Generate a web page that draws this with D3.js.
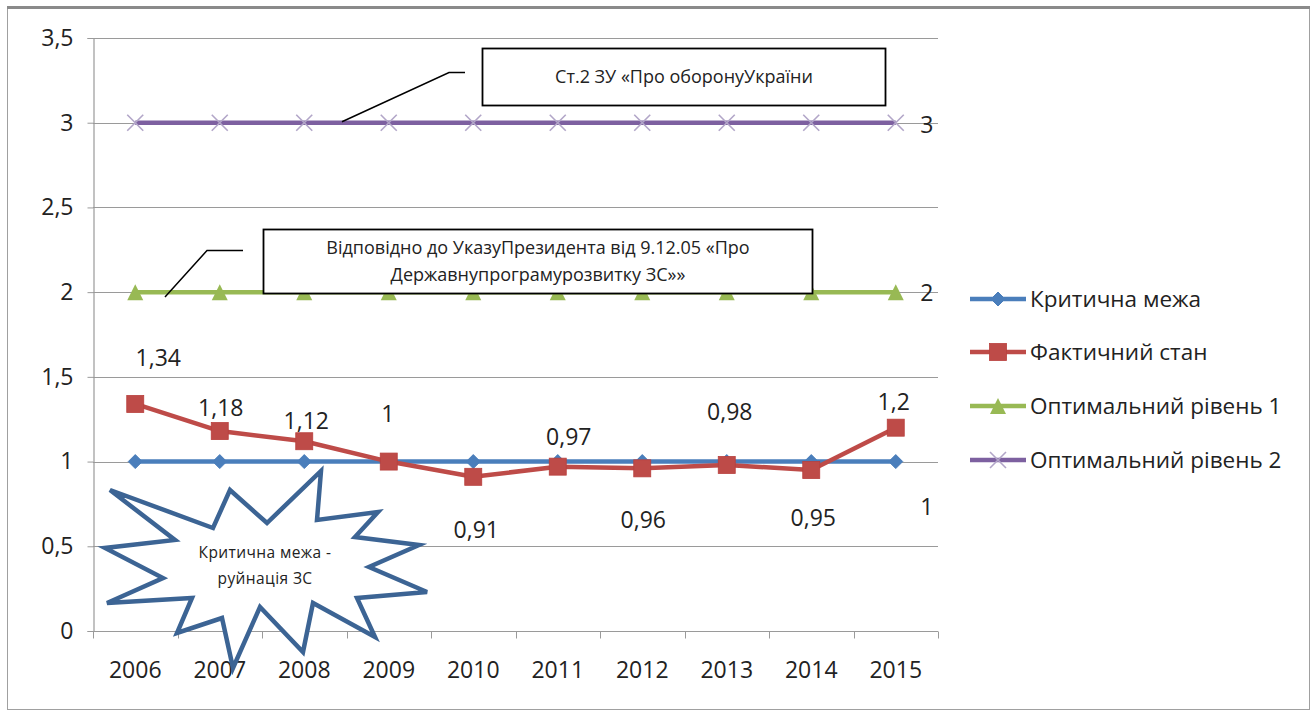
<!DOCTYPE html>
<html>
<head>
<meta charset="utf-8">
<script src="https://cdn.jsdelivr.net/npm/d3@7"></script>
<style>
  html, body { margin: 0; padding: 0; background: #fff; }
  svg { display: block; }
  text { font-family: "Open Sans", "Noto Sans", sans-serif; fill: #222; }
</style>
</head>
<body>
<svg id="chart" width="1315" height="711"></svg>
<script>
// ---- data ----
const years = ["2006", "2007", "2008", "2009", "2010", "2011", "2012", "2013", "2014", "2015"];
const criticalLimit = [1, 1, 1, 1, 1, 1, 1, 1, 1, 1];
const actualState = [1.34, 1.18, 1.12, 1, 0.91, 0.97, 0.96, 0.98, 0.95, 1.2];
const optimalLevel1 = [2, 2, 2, 2, 2, 2, 2, 2, 2, 2];
const optimalLevel2 = [3, 3, 3, 3, 3, 3, 3, 3, 3, 3];
const yTickValues = [0, 0.5, 1, 1.5, 2, 2.5, 3, 3.5];
const seriesNames = ["Критична межа", "Фактичний стан", "Оптимальний рівень 1", "Оптимальний рівень 2"];

// label placement for the "actual" series (pixel nudges from each point)
const actualLabelShift = [[23, -46], [1, -23], [2, -20], [-1, -48], [3, 53], [11, -30], [1, 52], [3, -53], [2, 48], [-2, -26]];

const fmt = v => String(v).replace(".", ",");
const tickFont = "23px";

const svg = d3.select("#chart");

// outer chart frame
svg.append("rect").attr("x", 7.5).attr("y", 7.5).attr("width", 1302).attr("height", 702)
  .attr("fill", "none").attr("stroke", "#a0a0a0").attr("stroke-width", 1);
svg.append("line").attr("x1", 7).attr("x2", 1310).attr("y1", 7.5).attr("y2", 7.5)
  .attr("stroke", "#8a8a8a").attr("stroke-width", 3);

const plot = { left: 93, right: 938, top: 38, bottom: 631 };

const x = d3.scaleBand().domain(years).range([plot.left, plot.right]);
const cx = d => x(d) + x.bandwidth() / 2;
const y = d3.scaleLinear().domain([0, 3.5]).range([plot.bottom, plot.top]);

// gridlines
svg.append("g")
  .selectAll("line").data(yTickValues).join("line")
  .attr("x1", plot.left).attr("x2", plot.right)
  .attr("y1", d => Math.round(y(d)) + 0.5).attr("y2", d => Math.round(y(d)) + 0.5)
  .attr("stroke", "#9a9a9a").attr("stroke-width", 1.2);

// y axis
const yAxis = d3.axisLeft(y).tickValues(yTickValues).tickFormat(fmt).tickSize(6).tickPadding(14);
const gy = svg.append("g").attr("transform", `translate(${plot.left + 0.5},0)`).call(yAxis);
gy.select(".domain").attr("stroke", "#9a9a9a").attr("stroke-width", 1.2);
gy.selectAll(".tick line").attr("stroke", "#9a9a9a");
gy.selectAll(".tick text").style("font-size", tickFont).attr("fill", "#222");

// x axis with ticks on category boundaries
const gx = svg.append("g").attr("transform", `translate(0,${Math.round(y(0)) + 0.5})`);
gx.append("line").attr("x1", plot.left).attr("x2", plot.right).attr("stroke", "#9a9a9a").attr("stroke-width", 1.2);
const bounds = years.map(d => x(d)).concat([plot.right]);
gx.selectAll("line.tk").data(bounds).join("line").attr("class", "tk")
  .attr("x1", d => Math.round(d) + 0.5).attr("x2", d => Math.round(d) + 0.5)
  .attr("y1", 0).attr("y2", 7).attr("stroke", "#9a9a9a");
gx.selectAll("text").data(years).join("text")
  .attr("x", d => cx(d)).attr("y", 46)
  .attr("text-anchor", "middle").style("font-size", tickFont).text(d => d);

// series definitions
const series = [
  { name: seriesNames[0], values: criticalLimit, color: "#4a7ebb", marker: "diamond" },
  { name: seriesNames[1], values: actualState, color: "#be4b48", marker: "square" },
  { name: seriesNames[2], values: optimalLevel1, color: "#98b954", marker: "triangle" },
  { name: seriesNames[3], values: optimalLevel2, color: "#7d60a0", marker: "cross" }
];

function drawMarker(g, type, color) {
  if (type === "diamond") {
    g.append("path").attr("d", "M0,-7L7,0L0,7L-7,0Z").attr("fill", color).attr("stroke", color);
  } else if (type === "square") {
    g.append("rect").attr("x", -8.5).attr("y", -8.5).attr("width", 17).attr("height", 17)
      .attr("fill", color).attr("stroke", "#b8403d").attr("stroke-width", 0.8);
  } else if (type === "triangle") {
    g.append("path").attr("d", "M0,-8L8,8L-8,8Z").attr("fill", color);
  } else if (type === "cross") {
    g.append("path").attr("d", "M-8,-8L8,8M-8,8L8,-8")
      .attr("stroke", "#b2a6c8").attr("stroke-width", 1.6).attr("fill", "none");
  }
}

const line = d3.line().x((v, i) => cx(years[i])).y(v => y(v));

// draw series back to front: level 2, level 1, critical, actual
[3, 2, 0, 1].forEach(k => {
  const s = series[k];
  const g = svg.append("g");
  g.append("path").datum(s.values).attr("d", line)
    .attr("fill", "none").attr("stroke", s.color).attr("stroke-width", 4.5).attr("stroke-linejoin", "round");
  s.values.forEach((v, i) => {
    const m = g.append("g").attr("transform", `translate(${cx(years[i])},${y(v)})`);
    drawMarker(m, s.marker, s.color);
  });
});

// data labels
const lastYear = years[years.length - 1];
svg.append("g").selectAll("text").data(actualState).join("text")
  .attr("x", (v, i) => cx(years[i]) + actualLabelShift[i][0])
  .attr("y", (v, i) => y(v) + actualLabelShift[i][1] + 8)
  .attr("text-anchor", "middle").style("font-size", tickFont).text(v => fmt(v));

svg.append("text").attr("x", cx(lastYear) + 31).attr("y", y(criticalLimit[9]) + 53)
  .attr("text-anchor", "middle").style("font-size", tickFont).text(fmt(criticalLimit[9]));
svg.append("text").attr("x", cx(lastYear) + 31).attr("y", y(optimalLevel1[9]) + 9)
  .attr("text-anchor", "middle").style("font-size", tickFont).text(fmt(optimalLevel1[9]));
svg.append("text").attr("x", cx(lastYear) + 31).attr("y", y(optimalLevel2[9]) + 10)
  .attr("text-anchor", "middle").style("font-size", tickFont).text(fmt(optimalLevel2[9]));

// callout boxes with leader lines
function callout(box, leader, lines) {
  svg.append("polyline").attr("points", leader.map(p => p.join(",")).join(" "))
    .attr("fill", "none").attr("stroke", "#000").attr("stroke-width", 1.5);
  svg.append("rect").attr("x", box[0]).attr("y", box[1]).attr("width", box[2]).attr("height", box[3])
    .attr("fill", "#fff").attr("stroke", "#000").attr("stroke-width", 1.8);
  const t = svg.append("text").attr("text-anchor", "middle").style("font-size", "18px");
  const lh = 27;
  const y0 = box[1] + box[3] / 2 - (lines.length - 1) * lh / 2 + 6;
  lines.forEach((s, i) => t.append("tspan").attr("x", box[0] + box[2] / 2).attr("y", y0 + i * lh).text(s));
}

callout([482.5, 48.5, 403, 57], [[342, y(3) - 1], [449, 72.5], [465, 72.5]],
  ["Ст.2 ЗУ «Про оборонуУкраїни"]);
callout([263.5, 229.5, 549, 64], [[165, 297], [207, 250.5], [243, 250.5]],
  ["Відповідно до УказуПрезидента від 9.12.05 «Про", "Державнупрограмурозвитку ЗС»»"]);

// explosion-shaped annotation
const burst = [[-155, -80], [-52, -42], [-35, -80], [2, -47], [56, -99], [52, -50], [113, -58], [90, -33],
  [154, -25], [104, -3], [162, 22], [92, 28], [110, 67], [48, 33], [38, 82], [-5, 37], [-32, 98], [-43, 48],
  [-88, 63], [-73, 28], [-158, 33], [-102, 8], [-160, -22], [-90, -30]];
const star = svg.append("g").attr("transform", "translate(265,570)");
star.append("path").attr("d", "M" + burst.map(p => p.join(",")).join("L") + "Z")
  .attr("fill", "#fff").attr("stroke", "#3c6494").attr("stroke-width", 4.5).attr("stroke-linejoin", "miter");
const st = star.append("text").attr("text-anchor", "middle").style("font-size", "15.5px").style("letter-spacing", "0.4px");
st.append("tspan").attr("x", 0).attr("y", -12).text("Критична межа -");
st.append("tspan").attr("x", 0).attr("y", 14).text("руйнація ЗС");

// legend
const legend = svg.append("g").attr("transform", "translate(970,0)");
const rowY = [299, 352, 406, 460];
series.forEach((s, i) => {
  const g = legend.append("g").attr("transform", `translate(0,${rowY[i]})`);
  g.append("line").attr("x1", 0).attr("x2", 56).attr("stroke", s.color).attr("stroke-width", 4.5);
  const m = g.append("g").attr("transform", "translate(28,0)");
  drawMarker(m, s.marker, s.color);
  g.append("text").attr("x", 60).attr("y", 8).style("font-size", "22.5px").text(s.name);
});
</script>
</body>
</html>
